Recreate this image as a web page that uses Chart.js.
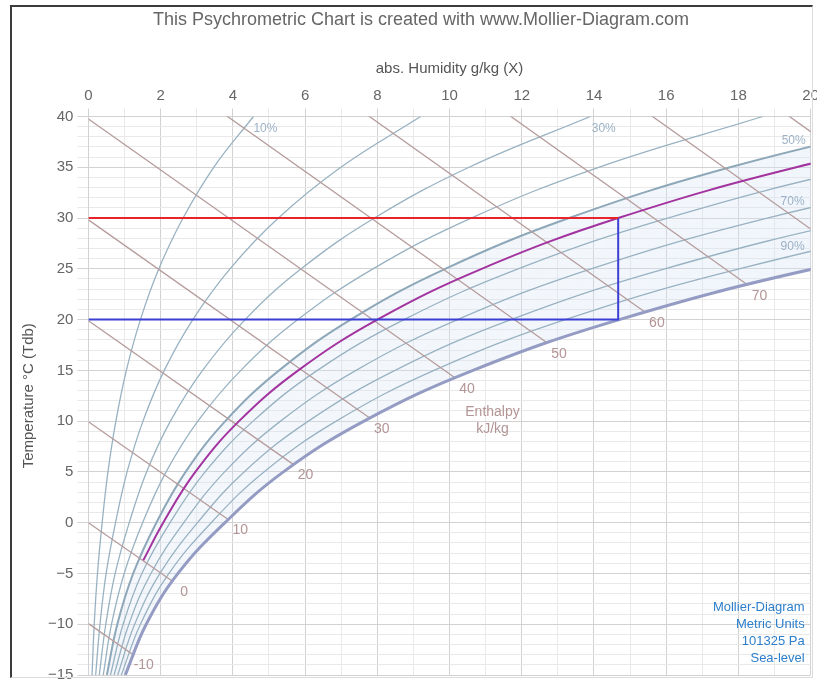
<!DOCTYPE html>
<html>
<head>
<meta charset="utf-8">
<title>Psychrometric Chart</title>
<script src="https://cdn.jsdelivr.net/npm/chart.js@4.4.1/dist/chart.umd.min.js"></script>
<style>
  html, body { margin: 0; padding: 0; background: #fff; overflow: hidden; }
  #wrap { position: relative; width: 817px; height: 682px; overflow: hidden; }
  #chart { position: absolute; left: 0; top: 0; }
  #frame {
    position: absolute; left: 10px; top: 5px; width: 803px; height: 673px;
    box-sizing: border-box; pointer-events: none;
    border-left: 2px solid #3c3c3c; border-top: 2px solid #3c3c3c;
    border-right: 1px solid #dcdcdc; border-bottom: 1px solid #dcdcdc;
  }
</style>
</head>
<body>
<div id="wrap">
  <canvas id="chart" width="823" height="688"></canvas>
  <div id="frame"></div>
</div>
<script>
// temperatures (°C) at which the humidity curves were read
var temps = [-15, -10, -5, 0, 5, 10, 15, 20, 25, 30, 35, 40];

// abs. humidity g/kg on each relative humidity curve, at the temps above
var rh10  = [0.10, 0.16, 0.25, 0.38, 0.54, 0.76, 1.05, 1.44, 1.95, 2.62, 3.47, 4.57];
var rh20  = [0.20, 0.32, 0.49, 0.75, 1.07, 1.51, 2.10, 2.89, 3.92, 5.26, 6.99, 9.20];
var rh30  = [0.30, 0.48, 0.74, 1.13, 1.61, 2.27, 3.16, 4.34, 5.89, 7.92, 10.54, 13.90];
var rh40  = [0.41, 0.64, 0.99, 1.50, 2.15, 3.03, 4.22, 5.80, 7.88, 10.60, 14.13, 18.68];
var rh50  = [0.51, 0.80, 1.24, 1.88, 2.69, 3.79, 5.28, 7.26, 9.88, 13.31, 17.77, 23.52];
var rh60  = [0.61, 0.96, 1.48, 2.26, 3.23, 4.56, 6.34, 8.74, 11.90, 16.04, 21.44, 28.44];
var rh70  = [0.71, 1.12, 1.73, 2.64, 3.77, 5.32, 7.41, 10.22, 13.92, 18.80, 25.16];
var rh80  = [0.81, 1.28, 1.98, 3.02, 4.31, 6.09, 8.49, 11.70, 15.96, 21.58, 28.92];
var rh90  = [0.91, 1.44, 2.23, 3.40, 4.86, 6.86, 9.57, 13.20, 18.02, 24.38, 32.73];
var rh100 = [1.02, 1.60, 2.48, 3.78, 5.40, 7.63, 10.65, 14.70, 20.08, 27.20, 36.58];
var rhCurves = [rh10, rh20, rh30, rh40, rh50, rh60, rh70, rh80, rh90, rh100];
var rhNames  = ['10%', '20%', '30%', '40%', '50%', '60%', '70%', '80%', '90%', '100%'];

// marked state line (55 %)
var stateTemps = [-3.7, 0, 5, 10, 15, 20, 25, 30, 35, 40];
var stateX     = [1.52, 2.07, 2.96, 4.17, 5.81, 8.00, 10.89, 14.67, 19.60, 25.97];

// process: dry bulb, dew point, abs. humidity
var dryBulb = 30;
var dewPoint = 20;
var stateHumidity = 14.67;

// enthalpy lines kJ/kg: start on X = 0, end on saturation
var enthalpy   = [-10, 0, 10, 20, 30, 40, 50, 60, 70, 80, 90];
var hStartT    = [-9.94, 0, 9.94, 19.88, 29.82, 39.76, 49.70, 59.64, 69.58, 79.52, 89.46];
var hEndX      = [1.20, 2.32, 3.87, 5.68, 7.79, 10.15, 12.70, 15.41, 18.25, 22, 22];
var hEndT      = [-12.9, -5.75, 0.32, 5.72, 10.3, 14.27, 17.72, 20.74, 23.44, 23.86, 33.41];

// curve labels [text, X, T]
var rhLabels = [['10%', 4.90, 38.8], ['30%', 14.27, 38.8], ['50%', 19.53, 37.6], ['70%', 19.50, 31.6], ['90%', 19.50, 27.2]];
var infoLines = ['Mollier-Diagram', 'Metric Units', '101325 Pa', 'Sea-level'];
var titleText = 'This Psychrometric Chart is created with www.Mollier-Diagram.com';

function pts(xs, ts) {
    return xs.map(function (x, i) { return {x: x, y: ts[i]}; });
}

var datasets = [];
datasets.push({ label: 'dry bulb', data: [{x: 0, y: dryBulb}, {x: stateHumidity, y: dryBulb}],
    borderColor: '#e8232b', borderWidth: 2, tension: 0, order: 0 });
datasets.push({ label: 'dew point', data: [{x: 0, y: dewPoint}, {x: stateHumidity, y: dewPoint}, {x: stateHumidity, y: dryBulb}],
    borderColor: '#3b3fd4', borderWidth: 2, tension: 0, order: 0 });
datasets.push({ label: '55%', data: pts(stateX, stateTemps),
    borderColor: '#a3339f', borderWidth: 2, order: 1 });

var rhStart = datasets.length;
rhCurves.forEach(function (c, i) {
    var sat = i === rhCurves.length - 1;
    var mid = rhNames[i] === '50%';
    datasets.push({ label: rhNames[i], data: pts(c, temps),
        borderColor: sat ? '#959cc4' : (mid ? '#8ea8b9' : '#99b2c2'),
        borderWidth: sat ? 3 : (mid ? 2 : 1.3), order: sat ? 2 : 4 });
});
enthalpy.forEach(function (h, i) {
    datasets.push({ label: 'h ' + h, data: [{x: 0, y: hStartT[i]}, {x: hEndX[i], y: hEndT[i]}],
        borderColor: '#b69c9c', borderWidth: 1.3, tension: 0, order: 3 });
});

var band = {
    id: 'band',
    beforeDatasetsDraw: function (chart) {
        var area = chart.chartArea, ctx = chart.ctx;
        var lines = [chart.getDatasetMeta(rhStart + 4).dataset, chart.getDatasetMeta(rhStart + 9).dataset];
        ctx.save();
        ctx.beginPath();
        ctx.rect(area.left, area.top, area.right - area.left, area.bottom - area.top);
        ctx.clip();
        ctx.beginPath();
        lines.forEach(function (line) {
            line.updateControlPoints(area, 'x');
            line.path(ctx);
            var p = line.points, first = p[0], last = p[p.length - 1];
            ctx.lineTo(area.right + 3000, last.y);
            ctx.lineTo(area.right + 3000, area.bottom + 200);
            ctx.lineTo(first.x, area.bottom + 200);
            ctx.closePath();
        });
        var g = ctx.createLinearGradient(area.left, area.top, area.right, area.bottom);
        g.addColorStop(0, 'rgba(214,228,245,0.22)');
        g.addColorStop(1, 'rgba(214,228,245,0.4)');
        ctx.fillStyle = g;
        ctx.fill('evenodd');
        ctx.restore();
    },
    afterDatasetsDraw: function (chart) {
        var ctx = chart.ctx, xs = chart.scales.x, ys = chart.scales.y, area = chart.chartArea;
        ctx.save();
        ctx.textAlign = 'center';
        ctx.textBaseline = 'middle';
        // title
        ctx.font = '18px Arial, "Liberation Sans", sans-serif';
        ctx.fillStyle = '#666';
        ctx.fillText(titleText, 421, 20);
        // enthalpy labels
        ctx.font = '14px Arial, "Liberation Sans", sans-serif';
        ctx.fillStyle = '#b39595';
        enthalpy.forEach(function (h, i) {
            if (hEndX[i] > 20) return;
            var px = xs.getPixelForValue(hEndX[i]) + 12;
            var py = ys.getPixelForValue(hEndT[i]) + 11;
            ctx.fillText(String(h), px, py);
        });
        ctx.fillText('Enthalpy', xs.getPixelForValue(11.19), ys.getPixelForValue(10.87));
        ctx.fillText('kJ/kg', xs.getPixelForValue(11.19), ys.getPixelForValue(9.2));
        // RH labels
        ctx.font = '12px Arial, "Liberation Sans", sans-serif';
        ctx.fillStyle = '#9db2c6';
        rhLabels.forEach(function (l) {
            ctx.fillText(l[0], xs.getPixelForValue(l[1]), ys.getPixelForValue(l[2]));
        });
        // info box
        ctx.font = '13px Arial, "Liberation Sans", sans-serif';
        ctx.fillStyle = '#2d7fcb';
        ctx.textAlign = 'right';
        infoLines.forEach(function (t, i) {
            ctx.fillText(t, area.right - 6, area.bottom - 68 + i * 17.3);
        });
        ctx.restore();
    }
};

var fmt = function (v) { return v < 0 ? '\u2212' + Math.abs(v) : String(v); };

new Chart(document.getElementById('chart'), {
    type: 'scatter',
    data: { datasets: datasets },
    options: {
        responsive: false,
        animation: false,
        showLine: true,
        layout: { padding: { top: 42.5, left: 0, right: 0, bottom: 0 } },
        elements: {
            point: { radius: 0, hoverRadius: 0 },
            line: { tension: 0.4, capBezierPoints: false, fill: false }
        },
        plugins: {
            legend: { display: false },
            tooltip: { enabled: false },
            title: { display: false }
        },
        scales: {
            x: {
                type: 'linear', position: 'top', min: 0, max: 20,
                ticks: { stepSize: 1, autoSkip: false, maxRotation: 0, color: '#666', font: { size: 15 }, padding: 4,
                    callback: function (v) { return v % 2 === 0 ? String(v) : ''; } },
                grid: { tickLength: 8,
                    color: function (c) { return c.tick && c.tick.value % 2 === 0 ? '#d2d2d2' : '#e9e9e9'; } },
                border: { color: '#d2d2d2' },
                title: { display: true, text: 'abs. Humidity g/kg (X)', color: '#555', font: { size: 15 },
                    padding: { top: 17, bottom: 5 } }
            },
            y: {
                type: 'linear', position: 'left', min: -15, max: 40,
                ticks: { stepSize: 1, autoSkip: false, color: '#666', font: { size: 15 }, padding: 4,
                    callback: function (v) { return v % 5 === 0 ? fmt(v) : ''; } },
                grid: { tickLength: 11,
                    color: function (c) { return c.tick && c.tick.value % 5 === 0 ? '#d2d2d2' : '#e9e9e9'; } },
                border: { color: '#d2d2d2' },
                title: { display: true, text: 'Temperature °C (Tdb)', color: '#555', font: { size: 15 },
                    padding: { top: 20, bottom: 6 } }
            }
        }
    },
    plugins: [band]
});
</script>
</body>
</html>
